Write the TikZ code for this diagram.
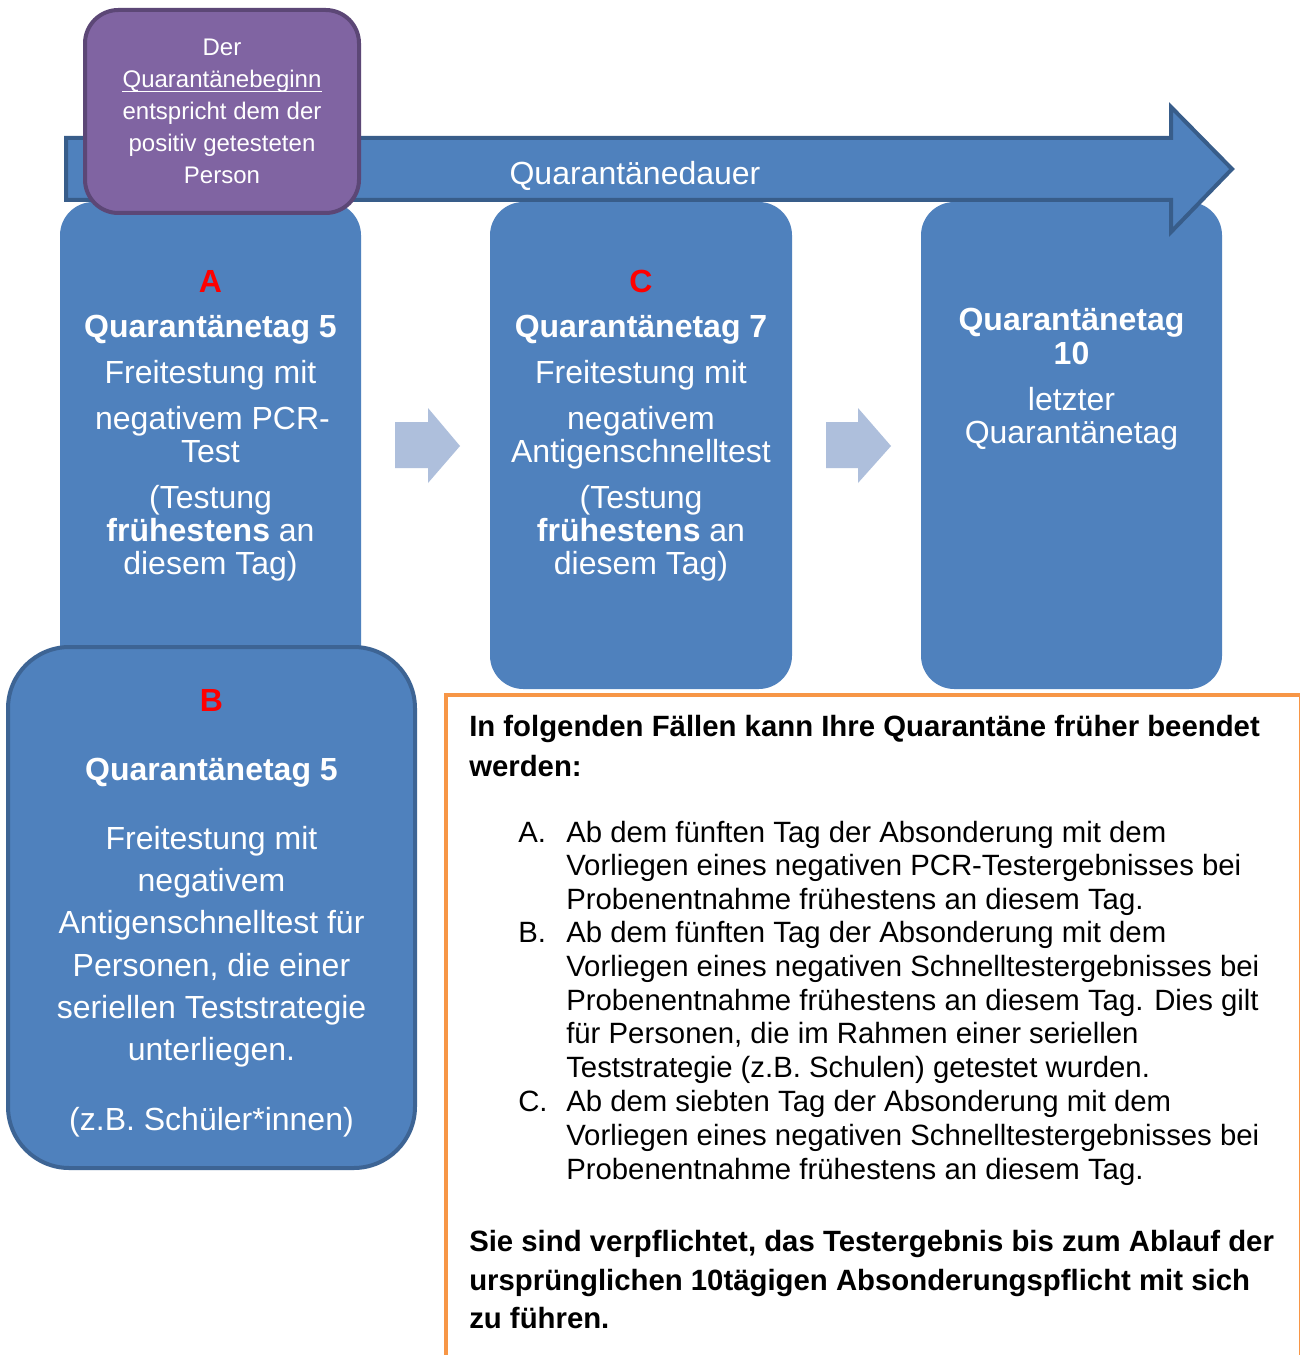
\documentclass[tikz,border=0pt]{standalone}
\usepackage{fontspec}
\setmainfont{Liberation Sans}
\definecolor{boxblue}{HTML}{4F81BD}
\definecolor{edgeblue}{HTML}{385D8A}
\definecolor{bedge}{HTML}{3D6494}
\definecolor{purfill}{HTML}{8064A2}
\definecolor{puredge}{HTML}{5C4776}
\definecolor{lightarr}{HTML}{AEBFDC}
\definecolor{orangeline}{HTML}{F79646}
\definecolor{redletter}{HTML}{FF0000}
\begin{document}
\begin{tikzpicture}[x=0.75pt,y=-0.75pt,
  bluebox/.style={fill=boxblue, rounded corners=25pt},
  wtxt/.style={text=white, inner sep=0pt, anchor=base, font=\fontsize{24}{28}\selectfont},
  btxt/.style={text=white, inner sep=0pt, anchor=base, font=\fontsize{24}{28}\selectfont\bfseries},
  rtxt/.style={text=redletter, inner sep=0pt, anchor=base, font=\fontsize{24}{28}\selectfont\bfseries},
  ptxt/.style={text=white, inner sep=0pt, anchor=base, font=\fontsize{18}{22}\selectfont},
  otxt/.style={text=black, inner sep=0pt, anchor=base west, font=\fontsize{22}{26}\selectfont},
  obtxt/.style={text=black, inner sep=0pt, anchor=base west, font=\fontsize{22}{26}\selectfont\bfseries},
  lightarrow/.style={fill=lightarr},
]
\useasboundingbox (0,0) rectangle (1299,1355);
\fill[white] (0,0) rectangle (1299,1355);

% orange frame
\draw[orangeline, line width=3pt] (446,695) rectangle (1300.5,1365);

% blue day boxes
\fill[bluebox] (60,202) rectangle (361,680);
\fill[bluebox] (490,202) rectangle (792,689);
\fill[bluebox] (921,202) rectangle (1222,689);

% big arrow
\draw[fill=boxblue, draw=edgeblue, line width=3pt, line join=miter]
  (66,138) -- (1171,138) -- (1171,107) -- (1232,169) -- (1171,232) -- (1171,200) -- (66,200) -- cycle;
\node[wtxt] (dauer) at (635,185) {Quarantänedauer};

% purple box
\draw[fill=purfill, draw=puredge, line width=3pt, rounded corners=25pt] (85,10) rectangle (359,213);
\node[ptxt] (p1) at (222,56) {Der};
\node[ptxt] (p2) at (222,88) {Quarantänebeginn};
\draw[white, line width=1.1pt] ([yshift=-2.6pt]p2.base west) -- ([yshift=-2.6pt]p2.base east);
\node[ptxt] (p3) at (222,120) {entspricht dem der};
\node[ptxt] (p4) at (222,152) {positiv getesteten};
\node[ptxt] (p5) at (222,184) {Person};

% small arrows
\fill[lightarrow] (395,422) -- (428,422) -- (428,408) -- (460,446) -- (428,483) -- (428,468) -- (395,468) -- cycle;
\fill[lightarrow] (826,422) -- (858,422) -- (858,408) -- (891,446) -- (858,483) -- (858,468) -- (826,468) -- cycle;

% box A text
\node[rtxt] (a0) at (210.5,292) {A};
\node[btxt] (a1) at (210.5,337) {Quarantänetag 5};
\node[wtxt] (a2) at (210.5,383) {Freitestung mit};
\node[wtxt] (a3) at (212.5,429) {negativem PCR-};
\node[wtxt] (a4) at (210.5,462) {Test};
\node[wtxt] (a5) at (210.5,508) {(Testung};
\node[wtxt] (a6) at (210.5,541) {\textbf{frühestens} an};
\node[wtxt] (a7) at (210.5,574) {diesem Tag)};

% box C text
\node[rtxt] (c0) at (641,292) {C};
\node[btxt] (c1) at (641,337) {Quarantänetag 7};
\node[wtxt] (c2) at (641,383) {Freitestung mit};
\node[wtxt] (c3) at (641,429) {negativem};
\node[wtxt] (c4) at (641,462) {Antigenschnelltest};
\node[wtxt] (c5) at (641,508) {(Testung};
\node[wtxt] (c6) at (641,541) {\textbf{frühestens} an};
\node[wtxt] (c7) at (641,574) {diesem Tag)};

% box 10 text
\node[btxt] (d1) at (1071.5,330) {Quarantänetag};
\node[btxt] (d2) at (1071.5,364) {10};
\node[wtxt] (d3) at (1071.5,410) {letzter};
\node[wtxt] (d4) at (1071.5,443) {Quarantänetag};

% box B
\draw[fill=boxblue, draw=bedge, line width=3pt, rounded corners=46pt] (8,647) rectangle (415,1168);
\node[rtxt] (b0) at (211.5,711) {B};
\node[btxt] (b1) at (211.5,780) {Quarantänetag 5};
\node[wtxt] (b2) at (211.5,849) {Freitestung mit};
\node[wtxt] (b3) at (211.5,891) {negativem};
\node[wtxt] (b4) at (211.5,933) {Antigenschnelltest für};
\node[wtxt] (b5) at (211.5,976) {Personen, die einer};
\node[wtxt] (b6) at (211.5,1018) {seriellen Teststrategie};
\node[wtxt] (b7) at (211.5,1060) {unterliegen.};
\node[wtxt] (b8) at (211.5,1130) {(z.B. Schüler*innen)};

% orange box text
\node[obtxt] (h1) at (469,736) {In folgenden Fällen kann Ihre Quarantäne früher beendet};
\node[obtxt] (h2) at (469,776) {werden:};

\node[otxt] (la) at (518,842) {A.};
\node[otxt] (la1) at (566,842) {Ab dem fünften Tag der Absonderung mit dem};
\node[otxt] (la2) at (566,875) {Vorliegen eines negativen PCR-Testergebnisses bei};
\node[otxt] (la3) at (566,909) {Probenentnahme frühestens an diesem Tag.};
\node[otxt] (lb) at (518,942) {B.};
\node[otxt] (lb1) at (566,942) {Ab dem fünften Tag der Absonderung mit dem};
\node[otxt] (lb2) at (566,976) {Vorliegen eines negativen Schnelltestergebnisses bei};
\node[otxt] (lb3) at (566,1010) {Probenentnahme frühestens an diesem Tag. Dies gilt};
\node[otxt] (lb4) at (566,1043) {für Personen, die im Rahmen einer seriellen};
\node[otxt] (lb5) at (566,1077) {Teststrategie (z.B. Schulen) getestet wurden.};
\node[otxt] (lc) at (518,1111) {C.};
\node[otxt] (lc1) at (566,1111) {Ab dem siebten Tag der Absonderung mit dem};
\node[otxt] (lc2) at (566,1145) {Vorliegen eines negativen Schnelltestergebnisses bei};
\node[otxt] (lc3) at (566,1179) {Probenentnahme frühestens an diesem Tag.};

\node[obtxt] (f1) at (469,1251) {Sie sind verpflichtet, das Testergebnis bis zum Ablauf der};
\node[obtxt] (f2) at (469,1290) {ursprünglichen 10tägigen Absonderungspflicht mit sich};
\node[obtxt] (f3) at (469,1328) {zu führen.};
\end{tikzpicture}
\end{document}
